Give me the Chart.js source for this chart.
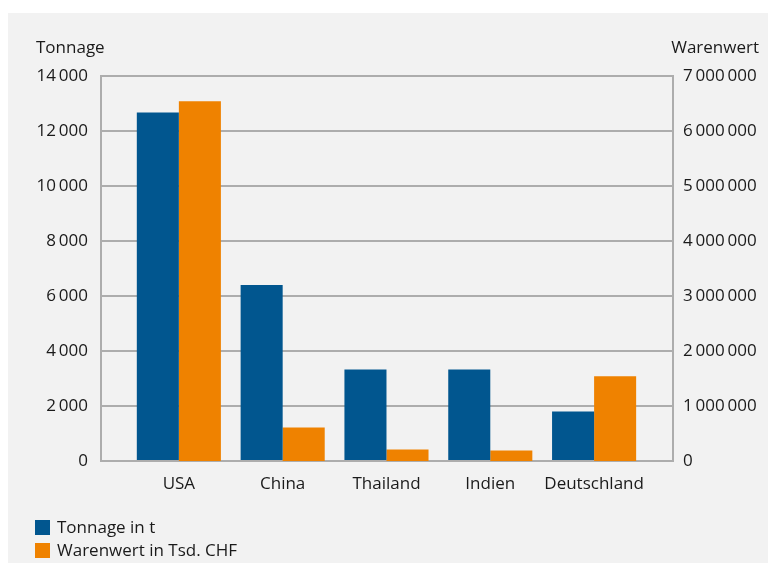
<!DOCTYPE html>
<html>
<head>
<meta charset="utf-8">
<script src="https://cdn.jsdelivr.net/npm/chart.js@4"></script>
<style>
  body { margin: 0; background: #fff; font-family: "Open Sans", sans-serif; }
  #wrap { position: relative; width: 775px; height: 563px; }
  #panel { position: absolute; left: 8px; top: 13px; width: 760px; height: 550px; background: #f2f2f2; }
  #chart { position: absolute; left: 0; top: 0; }
  #legend { position: absolute; left: 35px; top: 516px; font-size: 17px; color: #1a1a1a; }
  .item { height: 23px; line-height: 21px; white-space: nowrap; }
  .box { display: inline-block; width: 15px; height: 15px; margin-right: 7px; vertical-align: -2px; }
</style>
</head>
<body>
<div id="wrap">
  <div id="panel"></div>
  <canvas id="chart" width="775" height="563"></canvas>
  <div id="legend"></div>
</div>
<script>
var categories = ['USA', 'China', 'Thailand', 'Indien', 'Deutschland'];
var tonnage = [12670, 6400, 3330, 3330, 1800];
var warenwert = [6540000, 610000, 210000, 190000, 1540000];
var seriesNames = ['Tonnage in t', 'Warenwert in Tsd. CHF'];
var axisNames = ['Tonnage', 'Warenwert'];

var blue = '#01568f';
var orange = '#ef8200';
var gridColor = '#adadad';
var textColor = '#1a1a1a';

function fmt(v) {
  return String(Math.round(v)).replace(/\B(?=(\d{3})+(?!\d))/g, '\u2009');
}

function points(values) {
  return values.map(function (v, i) { return { x: i, y: v }; });
}

var axisNamePlugin = {
  id: 'axisNames',
  afterDraw(chart) {
    var ctx = chart.ctx, a = chart.chartArea;
    ctx.save();
    ctx.font = '17px "Open Sans"';
    ctx.fillStyle = textColor;
    ctx.textBaseline = 'alphabetic';
    ctx.textAlign = 'left';
    ctx.fillText(axisNames[0], a.left - 65, 53);
    ctx.textAlign = 'right';
    ctx.fillText(axisNames[1], a.right + 86, 53);
    ctx.restore();
  }
};

Chart.defaults.font.family = '"Open Sans", sans-serif';
Chart.defaults.font.size = 17;
Chart.defaults.color = textColor;

var chart = new Chart(document.getElementById('chart'), {
  type: 'bar',
  data: {
    datasets: [
      { label: seriesNames[0], data: points(tonnage), backgroundColor: blue, yAxisID: 'y' },
      { label: seriesNames[1], data: points(warenwert), backgroundColor: orange, yAxisID: 'y1' }
    ]
  },
  options: {
    responsive: false,
    animation: false,
    categoryPercentage: 0.81,
    barPercentage: 1,
    layout: { padding: { top: 76, left: 0, right: 0, bottom: 0 } },
    plugins: { legend: { display: false }, tooltip: { enabled: false } },
    scales: {
      x: {
        type: 'linear',
        offset: false,
        min: -0.75,
        max: 4.76,
        grid: { display: false },
        border: { display: false },
        ticks: {
          stepSize: 1,
          includeBounds: false,
          autoSkip: false,
          maxRotation: 0,
          padding: 5,
          callback: function (v) { return categories[v] !== undefined ? categories[v] : ''; }
        },
        afterFit: function (s) { s.height = 102; }
      },
      y: {
        position: 'left',
        min: 0,
        max: 14000,
        grid: { color: gridColor, lineWidth: 2, drawTicks: false },
        border: { color: gridColor, width: 2 },
        ticks: { stepSize: 2000, padding: 13, callback: fmt },
        afterFit: function (s) { s.width = 101; }
      },
      y1: {
        position: 'right',
        min: 0,
        max: 7000000,
        grid: { display: false, drawTicks: false },
        border: { color: gridColor, width: 2 },
        ticks: { stepSize: 1000000, padding: 10, callback: fmt },
        afterFit: function (s) { s.width = 102; }
      }
    }
  },
  plugins: [axisNamePlugin]
});

var legend = document.getElementById('legend');
chart.data.datasets.forEach(function (ds) {
  var row = document.createElement('div');
  row.className = 'item';
  var box = document.createElement('span');
  box.className = 'box';
  box.style.background = ds.backgroundColor;
  row.appendChild(box);
  row.appendChild(document.createTextNode(ds.label));
  legend.appendChild(row);
});
</script>
</body>
</html>
